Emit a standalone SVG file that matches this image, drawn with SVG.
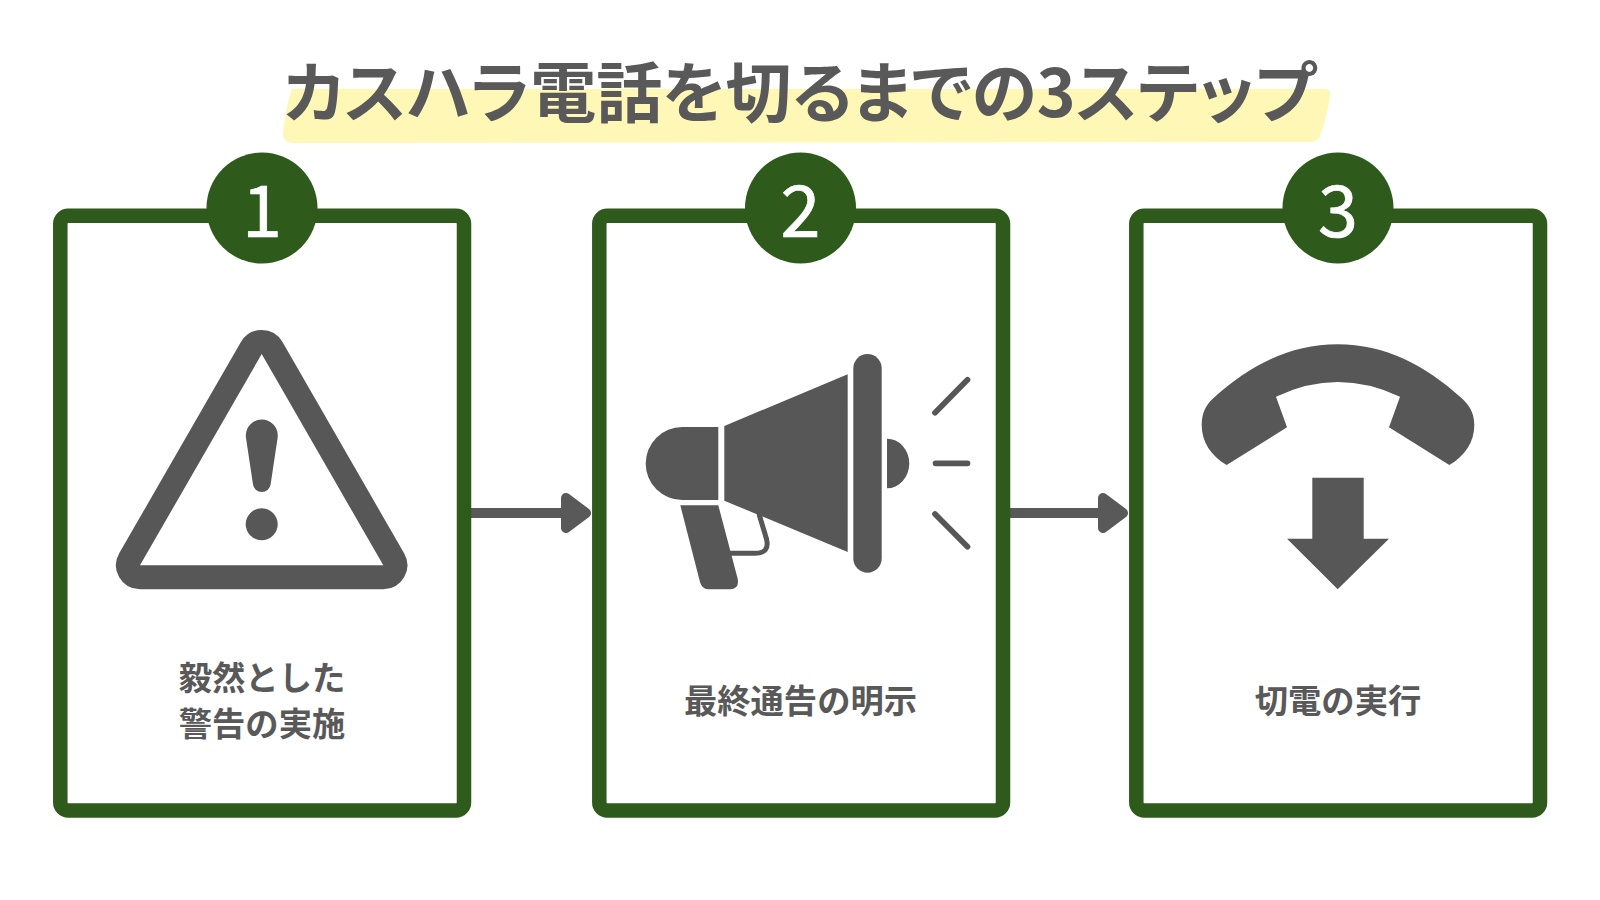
<svg xmlns="http://www.w3.org/2000/svg" width="1600" height="900" viewBox="0 0 1600 900">
<style>
.card{fill:#fff;stroke:#2e5a1c;stroke-width:14.5}
.badge{fill:#2e5a1c}
.num{font-family:"Noto Sans CJK JP","Noto Sans",sans-serif;font-size:72px;font-weight:400;fill:#fff;stroke:#fff;stroke-width:.7;text-anchor:middle}
.label{font-family:"Noto Sans CJK JP","Noto Sans",sans-serif;font-size:33.3px;font-weight:700;fill:#595959;text-anchor:middle}
.title{font-family:"Noto Sans CJK JP","Noto Sans",sans-serif;font-size:66px;font-weight:700;fill:#595959;text-anchor:middle;font-feature-settings:"palt"}
.icon{fill:#575757}
.wire{fill:none;stroke:#575757;stroke-width:5;stroke-linecap:round}
.ray{fill:none;stroke:#575757;stroke-width:5.7;stroke-linecap:round}
.conn{fill:none;stroke:#595959;stroke-width:10}
</style>
<defs>
<marker id="head" markerUnits="userSpaceOnUse" markerWidth="30" markerHeight="40" viewBox="0 0 30 40" refX="0" refY="20" orient="auto">
<path d="M5 5 L25 20 L5 35Z" fill="#595959" stroke="#595959" stroke-width="10" stroke-linejoin="round"/>
</marker>
</defs>
<rect width="1600" height="900" fill="#fff"/>
<g id="title">
<path d="M292 89 H1324 Q1331 89 1330 96 Q1327 118 1320 136 Q1318 142 1310 142 L292 143 Q283 142 283 134 Q285 110 292 89Z" fill="#fff7b5"/>
<text class="title" x="799.5" y="117">カスハラ電話を切るまでの3ステップ</text>
</g>
<g id="connectors">
<path class="conn" d="M471 513H561" marker-end="url(#head)"/>
<path class="conn" d="M1010 513H1098" marker-end="url(#head)"/>
</g>
<g id="step1">
<rect class="card" x="60.3" y="215.7" width="403.7" height="594.8" rx="8"/>
<circle class="badge" cx="262" cy="208" r="55.5"/>
<text class="num" x="262" y="237">1</text>
<path class="icon" fill-rule="evenodd" d="M240.9 342A24 24 0 0 1 282.5 342L404.1 553.3A24 24 0 0 1 383.3 589.3H140A24 24 0 0 1 119.2 553.3ZM261.7 354L140 565.3H383.3Z"/>
<path class="icon" d="M245.8 435.5A16 16 0 0 1 277.8 435.5Q277.8 437 277.6 438L270.6 484.5A8.9 8.9 0 0 1 253 484.5L246 438Q245.8 437 245.8 435.5Z"/>
<circle class="icon" cx="261.7" cy="524.3" r="16"/>
<text class="label" x="262" y="690">毅然とした</text>
<text class="label" x="262" y="736">警告の実施</text>
</g>
<g id="step2">
<rect class="card" x="599.3" y="215.7" width="403.7" height="594.8" rx="8"/>
<circle class="badge" cx="800.5" cy="208" r="55.5"/>
<text class="num" x="800.5" y="237">2</text>
<rect class="icon" x="853.3" y="354" width="28.4" height="218.7" rx="14.2"/>
<path class="icon" d="M724.3 426L847.7 374.3V552L724.3 500.7Z"/>
<path class="icon" d="M718.3 427H682.2A36.5 36.5 0 0 0 682.2 500H718.3Z"/>
<path class="icon" d="M680.3 505.3H718.3L737.5 578Q740 589.3 730 589.3H708Q702 589.3 700 582Z"/>
<path class="wire" d="M759.3 515L766.5 539Q770 553.3 755 553.3H730"/>
<path class="icon" d="M887 438.7A22.3 24.8 0 0 1 887 488.3Z"/>
<path class="ray" d="M967.5 379.8L935 412.7M935.5 463.3H967.5M935 514L967.5 546.7"/>
<text class="label" x="800.5" y="713">最終通告の明示</text>
</g>
<g id="step3">
<rect class="card" x="1136.3" y="215.7" width="403.7" height="594.8" rx="8"/>
<circle class="badge" cx="1338" cy="208" r="55.5"/>
<text class="num" x="1338" y="237">3</text>
<path class="icon" d="M1226.7 465L1287 427.3L1276 396.7Q1337.7 367.3 1400 396.7L1389 427.3L1449.3 465C1465 456 1474.3 442 1474.3 425C1474.3 412 1468 404 1461.7 398.3C1425 365 1385 344.3 1337.7 344.3C1290 344.3 1250 365 1213.3 398.3C1207 404 1201.7 412 1201.7 425C1201.7 442 1211 456 1226.7 465Z"/>
<path class="icon" d="M1312.3 477.7H1363.7V538.7H1389L1337.7 589.3L1287 538.7H1312.3Z"/>
<text class="label" x="1338" y="713">切電の実行</text>
</g>
</svg>
